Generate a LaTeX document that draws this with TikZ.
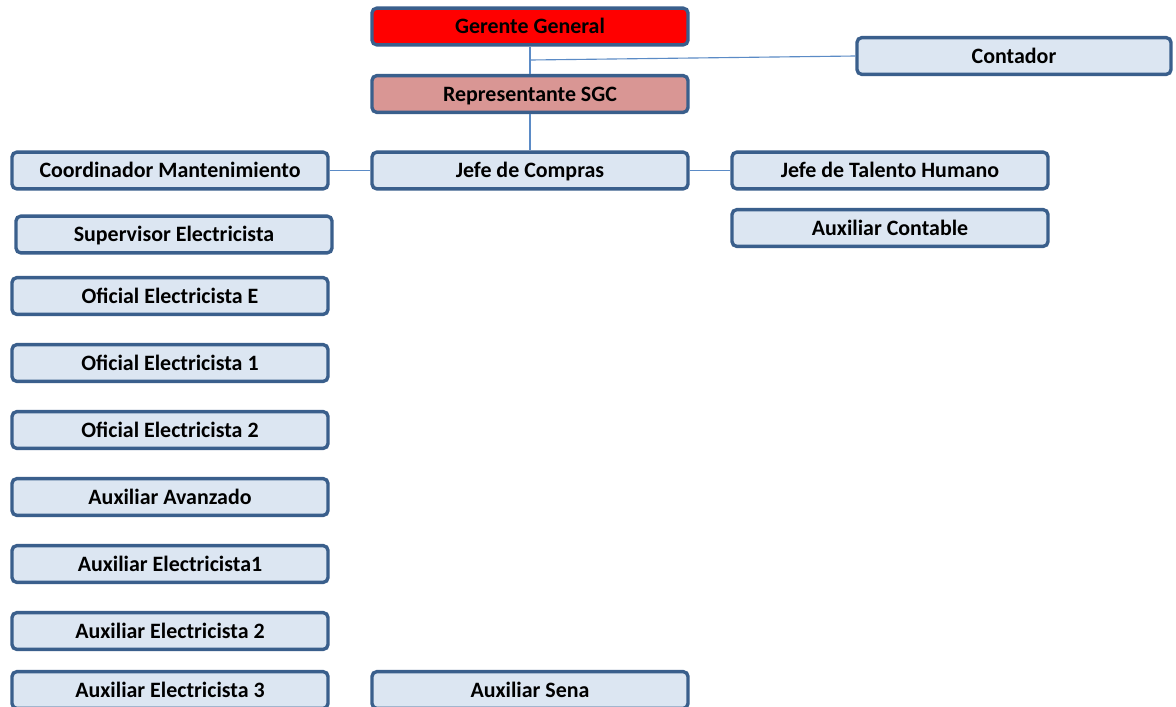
\documentclass[tikz,border=0pt]{standalone}
\usepackage{fontspec}
\setmainfont{Carlito}
\definecolor{boxline}{HTML}{3A5F8C}
\definecolor{boxfill}{HTML}{DCE6F2}
\definecolor{linkline}{HTML}{5B8BC6}
\definecolor{sgcfill}{HTML}{D99694}
\begin{document}
\begin{tikzpicture}[x=0.025cm, y=-0.025cm,
    cargo/.style={draw=boxline, line width=2.4pt, fill=boxfill, rounded corners=3.5pt,
      minimum width=7.9cm, minimum height=0.92cm, inner sep=0pt,
      text height=2.4ex, text depth=0.25ex,
      font=\bfseries\fontsize{15.6}{17}\selectfont},
    enlace/.style={draw=linkline, line width=0.8pt}]
    \clip (0,0) rectangle (1176,706);
    \fill[white] (0,0) rectangle (1176,706);
    % direccion
    \node[cargo, fill=red] (gerente) at (530,26.5) {Gerente General};
    \node[cargo, fill=sgcfill] (sgc) at (530,94) {Representante SGC};
    \node[cargo, minimum width=7.85cm] (contador) at (1014,56) {Contador};
    \coordinate (rama) at (530,60);
    % segundo nivel
    \node[cargo] (compras) at (530,170.5) {Jefe de Compras};
    \node[cargo] (coord) at (170,170.5) {Coordinador Mantenimiento};
    \node[cargo] (talento) at (890,170.5) {Jefe de Talento Humano};
    \node[cargo] (auxcont) at (890,228) {Auxiliar Contable};
    % mantenimiento
    \node[cargo] (superv) at (174,234.5) {Supervisor Electricista};
    \node[cargo] (ofie) at (170,296) {Oficial Electricista E};
    \node[cargo] (ofi1) at (170,363) {Oficial Electricista 1};
    \node[cargo] (ofi2) at (170,430) {Oficial Electricista 2};
    \node[cargo] (auxav) at (170,497) {Auxiliar Avanzado};
    \node[cargo] (auxe1) at (170,564) {Auxiliar Electricista1};
    \node[cargo] (auxe2) at (170,631) {Auxiliar Electricista 2};
    \node[cargo] (auxe3) at (170,690) {Auxiliar Electricista 3};
    \node[cargo] (sena) at (530,690) {Auxiliar Sena};
    % lineas
    \draw[enlace] (gerente) -- (sgc);
    \draw[enlace] (rama) -- (contador.west);
    \draw[enlace] (sgc) -- (compras);
    \draw[enlace] (coord) -- (compras);
    \draw[enlace] (compras) -- (talento);
\end{tikzpicture}
\end{document}
